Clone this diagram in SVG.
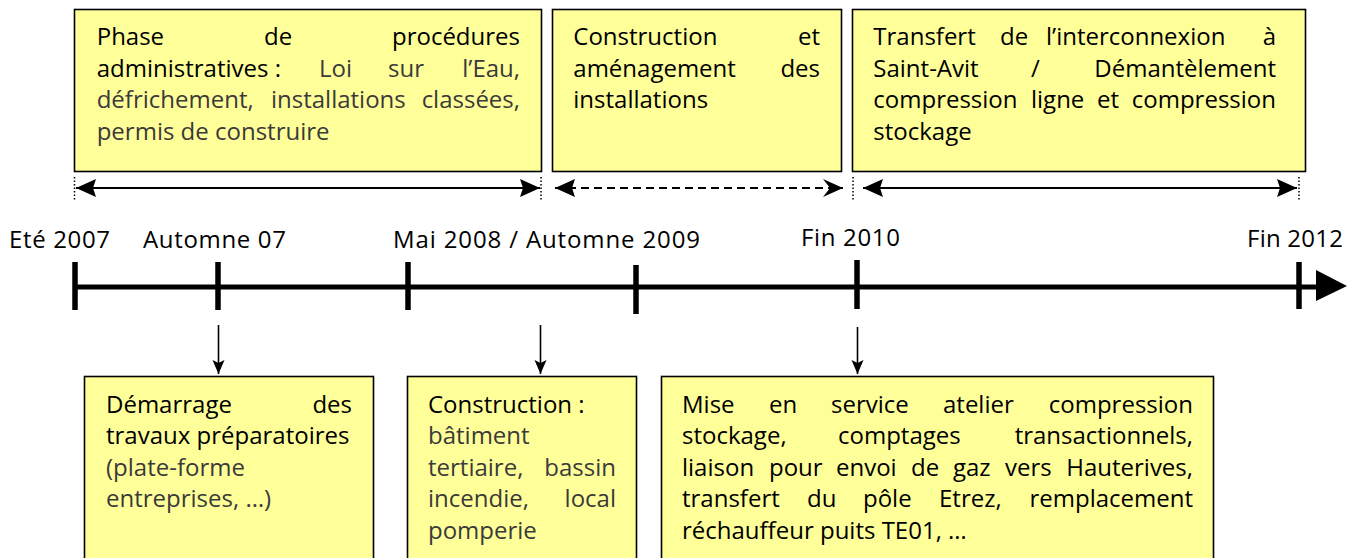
<svg xmlns="http://www.w3.org/2000/svg" width="1361" height="558" viewBox="0 0 1361 558">
<style>
  .box { fill: #FFFF99; stroke: #000; stroke-width: 1.6; }
  text { font-family: "Open Sans", "Noto Sans", "DejaVu Sans", sans-serif; font-size: 24px; }
  .t { fill: #000; }
  .d { fill: #3a3a3a; }
  .lbl { fill: #000; }
  .axis { stroke: #000; stroke-width: 5; fill: none; }
  .tick { stroke: #000; stroke-width: 5.5; }
  .span { stroke: #000; stroke-width: 2; fill: none; }
  .dash { stroke-dasharray: 8 5; }
  .guide { stroke: #000; stroke-width: 1.5; stroke-dasharray: 1.5 2; }
  .down { stroke: #000; stroke-width: 1.6; fill: none; }
</style>
<defs>
  <marker id="head" markerUnits="userSpaceOnUse" markerWidth="22" markerHeight="20" refX="20" refY="9" orient="auto-start-reverse">
    <path d="M0,0 L20,9 L0,18 L3,9 Z" fill="#000"/>
  </marker>
  <marker id="chev" markerUnits="userSpaceOnUse" markerWidth="22" markerHeight="20" refX="20" refY="9" orient="auto-start-reverse">
    <path d="M0,0 L20,9 L0,18 L7,9 Z" fill="#000"/>
  </marker>
  <marker id="small" markerUnits="userSpaceOnUse" markerWidth="16" markerHeight="14" refX="14" refY="6" orient="auto">
    <path d="M0,0 L14,6 L0,12 L3,6 Z" fill="#000"/>
  </marker>
</defs>

<!-- Top phase boxes -->
<g id="phase-admin">
  <rect class="box" x="74.5" y="9.5" width="467" height="162"/>
  <text class="t" y="45"><tspan x="96.7">Phase</tspan><tspan x="264">de</tspan><tspan x="520" text-anchor="end">procédures</tspan></text>
  <text y="77"><tspan class="t" x="96.7">administratives :</tspan><tspan class="d" x="319">Loi</tspan><tspan class="d" x="388">sur</tspan><tspan class="d" x="520" text-anchor="end">l’Eau,</tspan></text>
  <text class="d" y="108"><tspan x="96.7">défrichement,</tspan><tspan x="271">installations</tspan><tspan x="520" text-anchor="end">classées,</tspan></text>
  <text class="d" x="96.7" y="140">permis de construire</text>
</g>
<g id="phase-construction">
  <rect class="box" x="552.5" y="9.5" width="289" height="162"/>
  <text class="t" y="45"><tspan x="573.3">Construction</tspan><tspan x="820" text-anchor="end">et</tspan></text>
  <text class="t" y="77"><tspan x="573.3">aménagement</tspan><tspan x="820" text-anchor="end">des</tspan></text>
  <text class="t" x="573.3" y="108">installations</text>
</g>
<g id="phase-transfert">
  <rect class="box" x="852.5" y="9.5" width="453" height="162"/>
  <text class="t" y="45"><tspan x="873.3">Transfert</tspan><tspan x="1000">de</tspan><tspan x="1046">l’interconnexion</tspan><tspan x="1276" text-anchor="end">à</tspan></text>
  <text class="t" y="77"><tspan x="873.3">Saint-Avit</tspan><tspan x="1031">/</tspan><tspan x="1276" text-anchor="end">Démantèlement</tspan></text>
  <text class="t" y="108"><tspan x="873.3">compression</tspan><tspan x="1031">ligne</tspan><tspan x="1097">et</tspan><tspan x="1276" text-anchor="end">compression</tspan></text>
  <text class="t" x="873.3" y="140">stockage</text>
</g>

<!-- Timeline labels -->
<g id="label-ete2007"><text class="lbl" x="9" y="248" textLength="101" lengthAdjust="spacing">Eté 2007</text></g>
<g id="label-automne07"><text class="lbl" x="143" y="248" textLength="143" lengthAdjust="spacing">Automne 07</text></g>
<g id="label-mai2008"><text class="lbl" x="393" y="248" textLength="307" lengthAdjust="spacing">Mai 2008 / Automne 2009</text></g>
<g id="label-fin2010"><text class="lbl" x="801" y="246" textLength="99" lengthAdjust="spacing">Fin 2010</text></g>
<g id="label-fin2012"><text class="lbl" x="1247" y="247" textLength="96" lengthAdjust="spacing">Fin 2012</text></g>

<!-- Bottom event boxes -->
<g id="event-demarrage">
  <rect class="box" x="84.5" y="376.5" width="289" height="190"/>
  <text class="t" y="413"><tspan x="106">Démarrage</tspan><tspan x="352" text-anchor="end">des</tspan></text>
  <text class="t" x="106" y="444">travaux préparatoires</text>
  <text class="d" x="106" y="476">(plate-forme</text>
  <text class="d" x="106" y="507">entreprises, …)</text>
</g>
<g id="event-construction">
  <rect class="box" x="407.5" y="376.5" width="229" height="190"/>
  <text class="t" x="428" y="413">Construction :</text>
  <text class="d" x="428" y="444">bâtiment</text>
  <text class="d" y="476"><tspan x="428">tertiaire,</tspan><tspan x="616" text-anchor="end">bassin</tspan></text>
  <text class="d" y="507"><tspan x="428">incendie,</tspan><tspan x="616" text-anchor="end">local</tspan></text>
  <text class="d" x="428" y="539">pomperie</text>
</g>
<g id="event-mise-en-service">
  <rect class="box" x="661.5" y="376.5" width="552" height="190"/>
  <text class="t" y="413"><tspan x="682">Mise</tspan><tspan x="769">en</tspan><tspan x="831">service</tspan><tspan x="943">atelier</tspan><tspan x="1193" text-anchor="end">compression</tspan></text>
  <text class="t" y="444"><tspan x="682">stockage,</tspan><tspan x="838">comptages</tspan><tspan x="1193" text-anchor="end">transactionnels,</tspan></text>
  <text class="t" y="476"><tspan x="682">liaison</tspan><tspan x="769">pour</tspan><tspan x="836">envoi</tspan><tspan x="911">de</tspan><tspan x="953">gaz</tspan><tspan x="1005">vers</tspan><tspan x="1193" text-anchor="end">Hauterives,</tspan></text>
  <text class="t" y="507"><tspan x="682">transfert</tspan><tspan x="807">du</tspan><tspan x="863">pôle</tspan><tspan x="939">Etrez,</tspan><tspan x="1193" text-anchor="end">remplacement</tspan></text>
  <text class="t" x="682" y="539">réchauffeur puits TE01, …</text>
</g>

<!-- Connectors -->
<g id="connectors">
  <!-- timeline axis -->
  <line class="axis" x1="75" y1="287" x2="1318" y2="287"/>
  <polygon points="1316,270 1347,286 1316,301" fill="#000"/>
  <line class="tick" x1="75" y1="262" x2="75" y2="310"/>
  <line class="tick" x1="218" y1="262" x2="218" y2="310"/>
  <line class="tick" x1="408" y1="262" x2="408" y2="310"/>
  <line class="tick" x1="636" y1="265" x2="636" y2="314"/>
  <line class="tick" x1="857" y1="260" x2="857" y2="309"/>
  <line class="tick" x1="1299" y1="262" x2="1299" y2="309"/>

  <!-- phase span arrows -->
  <line class="guide" x1="74.5" y1="177" x2="74.5" y2="200"/>
  <line class="guide" x1="541" y1="177" x2="541" y2="200"/>
  <line class="guide" x1="853" y1="177" x2="853" y2="200"/>
  <line class="guide" x1="1299" y1="177" x2="1299" y2="200"/>
  <line class="span" x1="76" y1="188" x2="540" y2="188" marker-start="url(#head)" marker-end="url(#head)"/>
  <line class="span dash" x1="555" y1="188" x2="843" y2="188" marker-start="url(#head)" marker-end="url(#chev)"/>
  <line class="span" x1="863" y1="188" x2="1297" y2="188" marker-start="url(#head)" marker-end="url(#head)"/>

  <!-- event arrows -->
  <line class="down" x1="218.5" y1="325" x2="218.5" y2="374" marker-end="url(#small)"/>
  <line class="down" x1="540.5" y1="325" x2="540.5" y2="374" marker-end="url(#small)"/>
  <line class="down" x1="857.5" y1="327" x2="857.5" y2="374" marker-end="url(#small)"/>
</g>
</svg>
